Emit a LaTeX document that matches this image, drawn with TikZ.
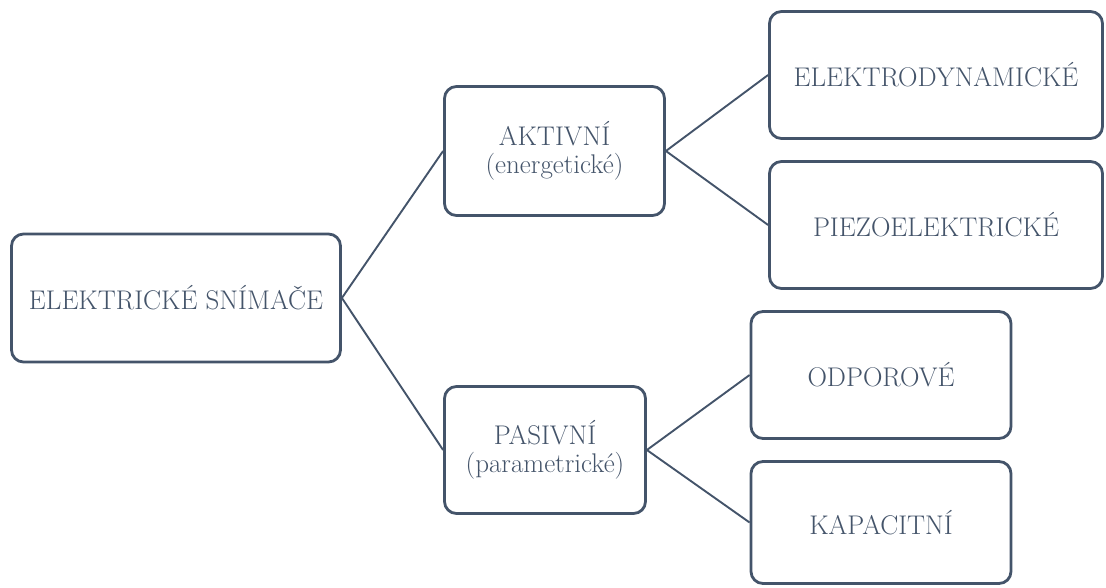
\documentclass[tikz,border=0pt]{standalone}
\usepackage{fontspec}
\usepackage{tikz}
\definecolor{slate}{HTML}{44546A}

\begin{document}
\begin{tikzpicture}[
  x=1pt,y=-1pt,
  font=\fontsize{27}{28}\selectfont,
  box/.style={draw=slate, text=slate, line width=2.8pt, rounded corners=12pt,
    fill=white, align=center, inner sep=0pt},
  link/.style={draw=slate, line width=1.9pt}
]
\path[use as bounding box] (0,0) rectangle (1106,588);

% Root
\node[box, minimum width=329pt, minimum height=128pt] (snimace) at (176,298)
  {ELEKTRICKÉ SNÍMAČE};

% Second level
\node[box, minimum width=220pt, minimum height=129pt] (aktivni) at (554.5,151)
  {AKTIVNÍ\\(energetické)};
\node[box, minimum width=201pt, minimum height=127pt] (pasivni) at (545,450)
  {PASIVNÍ\\(parametrické)};

% Leaves
\node[box, minimum width=333pt, minimum height=127pt] (elektrodyn) at (936,75)
  {ELEKTRODYNAMICKÉ};
\node[box, minimum width=333pt, minimum height=127pt] (piezo) at (936,225)
  {PIEZOELEKTRICKÉ};
\node[box, minimum width=260pt, minimum height=127pt] (odporove) at (881,375)
  {ODPOROVÉ};
\node[box, minimum width=260pt, minimum height=122pt] (kapacitni) at (881,522.5)
  {KAPACITNÍ};

% Connectors
\draw[link] (snimace.east) -- (aktivni.west);
\draw[link] (snimace.east) -- (pasivni.west);
\draw[link] (aktivni.east) -- (elektrodyn.west);
\draw[link] (aktivni.east) -- (piezo.west);
\draw[link] (pasivni.east) -- (odporove.west);
\draw[link] (pasivni.east) -- (kapacitni.west);

\end{tikzpicture}
\end{document}
